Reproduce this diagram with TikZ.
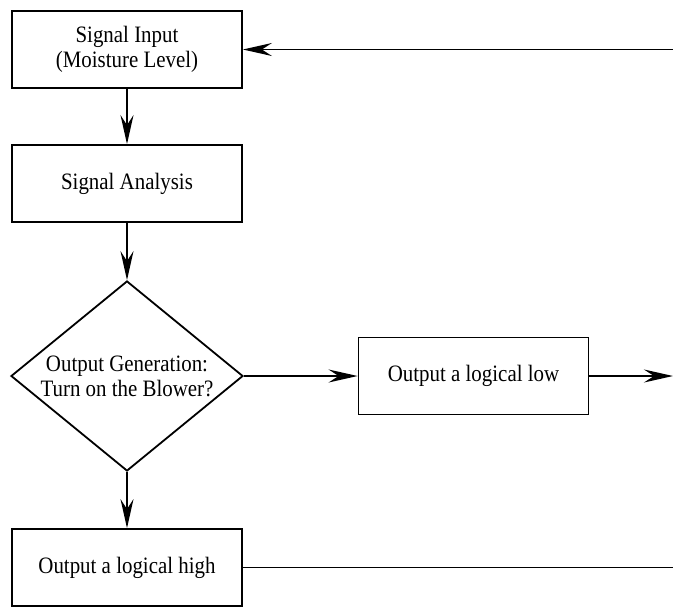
\documentclass[tikz,border=0pt]{standalone}
\usepackage{fontspec}
\setmainfont{Liberation Serif}[FakeStretch=0.89]
\usepackage{tikz}
\usetikzlibrary{arrows.meta, shapes.geometric}

\begin{document}
\begin{tikzpicture}[x=1pt, y=-1pt, line width=1.8pt,
    >={Stealth[length=29pt, width=13pt, inset=10pt]},
    block/.style={draw, rectangle, minimum width=230pt, minimum height=77pt, inner sep=0pt,
      align=center, font=\fontsize{23.5}{25}\selectfont},
    decision/.style={draw, diamond, aspect=1.21, minimum width=232pt, minimum height=190pt,
      inner sep=0pt, align=center, font=\fontsize{23.5}{25}\selectfont}]
  \useasboundingbox (0,0) rectangle (673,606);
  % main chain on the left
  \node[block] (input) at (127,49.5) {Signal Input\\(Moisture Level)};
  \node[block] (analysis) at (127,183.5) {Signal Analysis};
  \node[decision] (decide) at (127,376) {Output Generation:\\Turn on the Blower?};
  \node[block] (high) at (127,567.5) {Output a logical high};
  % branch to the right
  \node[block] (low) at (473.5,376) {Output a logical low};
  % free ends at the right edge
  \coordinate (loopin) at (673,49.5);
  \coordinate (lowend) at (673,376);
  \coordinate (highend) at (673,567.5);
  \draw[->] (input) -- (analysis);
  \draw[->] (analysis) -- (decide);
  \draw[->] (decide) -- (high);
  \draw[->] (decide) -- (low);
  \draw[->] (low) -- (lowend);
  \draw (high) -- (highend);
  \draw[->] (loopin) -- (input);
\end{tikzpicture}
\end{document}
